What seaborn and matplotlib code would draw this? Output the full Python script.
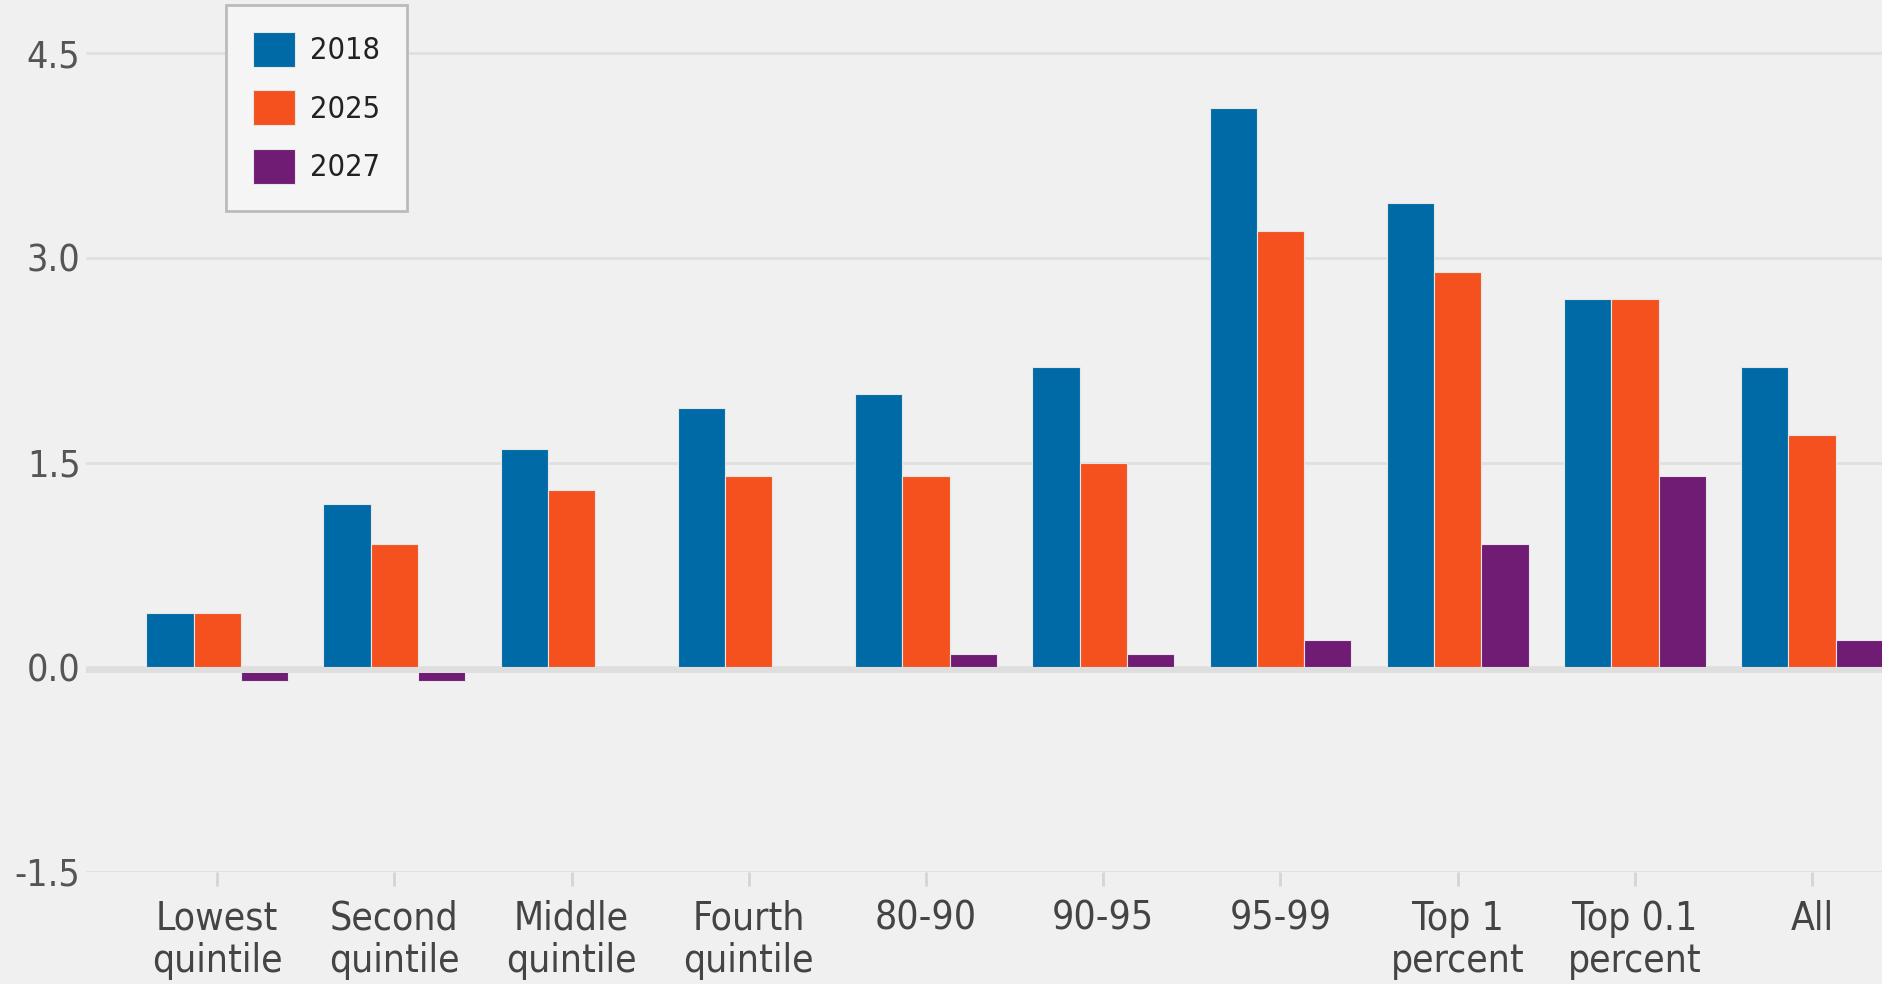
import pandas as pd
import seaborn as sns
import matplotlib.pyplot as plt

# Data
groups = ['Lowest\nquintile', 'Second\nquintile', 'Middle\nquintile', 'Fourth\nquintile',
          '80-90', '90-95', '95-99', 'Top 1\npercent', 'Top 0.1\npercent', 'All']
years = ['2018', '2025', '2027']
vals_2018 = [0.4, 1.2, 1.6, 1.9, 2.0, 2.2, 4.1, 3.4, 2.7, 2.2]
vals_2025 = [0.4, 0.9, 1.3, 1.4, 1.4, 1.5, 3.2, 2.9, 2.7, 1.7]
vals_2027 = [-0.1, -0.1, 0.0, 0.0, 0.1, 0.1, 0.2, 0.9, 1.4, 0.2]
colors = ['#006aa6', '#f5511e', '#701b74']
yticks = [-1.5, 0.0, 1.5, 3.0, 4.5]

df = pd.DataFrame({
    'group': groups * 3,
    'year': [y for y in years for _ in groups],
    'value': vals_2018 + vals_2025 + vals_2027,
})

sns.set_theme(style='white')
plt.rcParams['font.family'] = ['DejaVu Sans']
plt.rcParams['font.stretch'] = 'condensed'

fig = plt.figure(figsize=(18.83, 9.84), dpi=100, facecolor='#f0f0f0')
ax = fig.add_axes([86 / 1883, 112 / 984, 1 - 86 / 1883, 1 - 112 / 984])
ax.set_facecolor('#f0f0f0')

sns.barplot(data=df, x='group', y='value', hue='year', palette=colors,
            order=groups, hue_order=years, width=0.8, ax=ax,
            edgecolor='#e6e6e6', linewidth=0.8, saturation=1, zorder=3)

ax.set_ylim(-1.5, 4.89)
ax.set_xlim(-0.74, 9.4)
ax.set_yticks(yticks)
ax.set_yticklabels([f'{v:.1f}' for v in yticks])
ax.yaxis.grid(True, color='#e0e0e0', linewidth=2, zorder=0)
ax.set_axisbelow(True)
# zero band sits just under 0, over the bars
ax.axhspan(-0.044, 0, color='#dedede', linewidth=0, zorder=4)
for s in ax.spines.values():
    s.set_visible(False)

ax.tick_params(axis='y', length=0, labelsize=27, labelcolor='#555555', pad=4)
ax.tick_params(axis='x', length=10, width=2, color='#d5d5d5', direction='out',
               labelsize=28, labelcolor='#444444', pad=10, bottom=True)
for lbl in ax.get_xticklabels():
    lbl.set_linespacing(1.15)
ax.set_xlabel('')
ax.set_ylabel('')

leg = ax.legend(loc='upper left', bbox_to_anchor=(226 / 1883, 1 - 5 / 984),
                bbox_transform=fig.transFigure, fontsize=22, frameon=True,
                handlelength=1.37, handleheight=1.37, labelspacing=0.78,
                borderpad=0.88, handletextpad=0.5, borderaxespad=0,
                fancybox=False, title=None)
leg.get_frame().set_facecolor('#f5f5f5')
leg.get_frame().set_edgecolor('#bbbbbb')
leg.get_frame().set_linewidth(2)
leg.get_frame().set_alpha(1)
for t in leg.get_texts():
    t.set_color('#222222')

fig.savefig('out.png', dpi=100, facecolor=fig.get_facecolor())
